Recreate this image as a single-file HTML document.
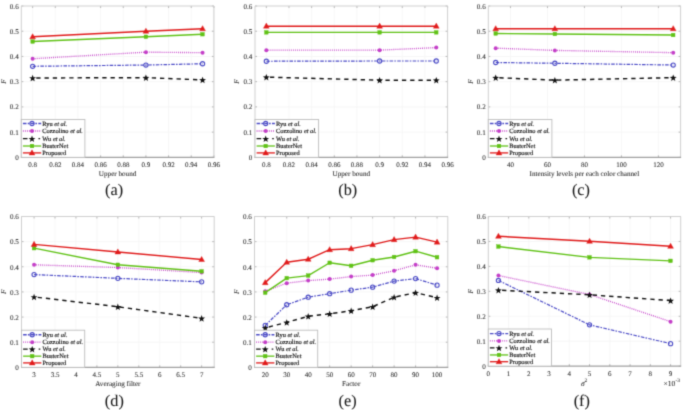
<!DOCTYPE html>
<html><head><meta charset="utf-8"><style>html,body{margin:0;padding:0;background:#fff;width:685px;height:410px;overflow:hidden}</style></head>
<body><svg width="685" height="410" viewBox="0 0 685 410" style="display:block;font-family:'Liberation Serif', serif"><style>text{text-rendering:geometricPrecision;stroke:currentColor;stroke-width:0.06px;}</style><defs><filter id="bl" x="0" y="0" width="685" height="410" filterUnits="userSpaceOnUse" color-interpolation-filters="sRGB"><feConvolveMatrix order="3" kernelMatrix="0.0484 0.22 0.0484 0.22 1 0.22 0.0484 0.22 0.0484" edgeMode="duplicate" preserveAlpha="true"/></filter></defs><g filter="url(#bl)"><rect width="685" height="410" fill="#fff"/><g><line x1="32.63" y1="6.00" x2="32.63" y2="157.35" stroke="#f5f5f5" stroke-width="0.8"/><line x1="55.29" y1="6.00" x2="55.29" y2="157.35" stroke="#f5f5f5" stroke-width="0.8"/><line x1="77.95" y1="6.00" x2="77.95" y2="157.35" stroke="#f5f5f5" stroke-width="0.8"/><line x1="100.61" y1="6.00" x2="100.61" y2="157.35" stroke="#f5f5f5" stroke-width="0.8"/><line x1="123.26" y1="6.00" x2="123.26" y2="157.35" stroke="#f5f5f5" stroke-width="0.8"/><line x1="145.92" y1="6.00" x2="145.92" y2="157.35" stroke="#f5f5f5" stroke-width="0.8"/><line x1="168.58" y1="6.00" x2="168.58" y2="157.35" stroke="#f5f5f5" stroke-width="0.8"/><line x1="191.24" y1="6.00" x2="191.24" y2="157.35" stroke="#f5f5f5" stroke-width="0.8"/><line x1="213.90" y1="6.00" x2="213.90" y2="157.35" stroke="#f5f5f5" stroke-width="0.8"/><line x1="21.30" y1="132.12" x2="213.90" y2="132.12" stroke="#f5f5f5" stroke-width="0.8"/><line x1="21.30" y1="106.90" x2="213.90" y2="106.90" stroke="#f5f5f5" stroke-width="0.8"/><line x1="21.30" y1="81.67" x2="213.90" y2="81.67" stroke="#f5f5f5" stroke-width="0.8"/><line x1="21.30" y1="56.45" x2="213.90" y2="56.45" stroke="#f5f5f5" stroke-width="0.8"/><line x1="21.30" y1="31.22" x2="213.90" y2="31.22" stroke="#f5f5f5" stroke-width="0.8"/><line x1="32.63" y1="157.35" x2="32.63" y2="155.35" stroke="#9a9a9a" stroke-width="0.7"/><line x1="32.63" y1="6.00" x2="32.63" y2="8.00" stroke="#9a9a9a" stroke-width="0.7"/><line x1="55.29" y1="157.35" x2="55.29" y2="155.35" stroke="#9a9a9a" stroke-width="0.7"/><line x1="55.29" y1="6.00" x2="55.29" y2="8.00" stroke="#9a9a9a" stroke-width="0.7"/><line x1="77.95" y1="157.35" x2="77.95" y2="155.35" stroke="#9a9a9a" stroke-width="0.7"/><line x1="77.95" y1="6.00" x2="77.95" y2="8.00" stroke="#9a9a9a" stroke-width="0.7"/><line x1="100.61" y1="157.35" x2="100.61" y2="155.35" stroke="#9a9a9a" stroke-width="0.7"/><line x1="100.61" y1="6.00" x2="100.61" y2="8.00" stroke="#9a9a9a" stroke-width="0.7"/><line x1="123.26" y1="157.35" x2="123.26" y2="155.35" stroke="#9a9a9a" stroke-width="0.7"/><line x1="123.26" y1="6.00" x2="123.26" y2="8.00" stroke="#9a9a9a" stroke-width="0.7"/><line x1="145.92" y1="157.35" x2="145.92" y2="155.35" stroke="#9a9a9a" stroke-width="0.7"/><line x1="145.92" y1="6.00" x2="145.92" y2="8.00" stroke="#9a9a9a" stroke-width="0.7"/><line x1="168.58" y1="157.35" x2="168.58" y2="155.35" stroke="#9a9a9a" stroke-width="0.7"/><line x1="168.58" y1="6.00" x2="168.58" y2="8.00" stroke="#9a9a9a" stroke-width="0.7"/><line x1="191.24" y1="157.35" x2="191.24" y2="155.35" stroke="#9a9a9a" stroke-width="0.7"/><line x1="191.24" y1="6.00" x2="191.24" y2="8.00" stroke="#9a9a9a" stroke-width="0.7"/><line x1="213.90" y1="157.35" x2="213.90" y2="155.35" stroke="#9a9a9a" stroke-width="0.7"/><line x1="213.90" y1="6.00" x2="213.90" y2="8.00" stroke="#9a9a9a" stroke-width="0.7"/><line x1="21.30" y1="157.35" x2="23.30" y2="157.35" stroke="#9a9a9a" stroke-width="0.7"/><line x1="213.90" y1="157.35" x2="211.90" y2="157.35" stroke="#9a9a9a" stroke-width="0.7"/><line x1="21.30" y1="132.12" x2="23.30" y2="132.12" stroke="#9a9a9a" stroke-width="0.7"/><line x1="213.90" y1="132.12" x2="211.90" y2="132.12" stroke="#9a9a9a" stroke-width="0.7"/><line x1="21.30" y1="106.90" x2="23.30" y2="106.90" stroke="#9a9a9a" stroke-width="0.7"/><line x1="213.90" y1="106.90" x2="211.90" y2="106.90" stroke="#9a9a9a" stroke-width="0.7"/><line x1="21.30" y1="81.67" x2="23.30" y2="81.67" stroke="#9a9a9a" stroke-width="0.7"/><line x1="213.90" y1="81.67" x2="211.90" y2="81.67" stroke="#9a9a9a" stroke-width="0.7"/><line x1="21.30" y1="56.45" x2="23.30" y2="56.45" stroke="#9a9a9a" stroke-width="0.7"/><line x1="213.90" y1="56.45" x2="211.90" y2="56.45" stroke="#9a9a9a" stroke-width="0.7"/><line x1="21.30" y1="31.22" x2="23.30" y2="31.22" stroke="#9a9a9a" stroke-width="0.7"/><line x1="213.90" y1="31.22" x2="211.90" y2="31.22" stroke="#9a9a9a" stroke-width="0.7"/><line x1="21.30" y1="6.00" x2="23.30" y2="6.00" stroke="#9a9a9a" stroke-width="0.7"/><line x1="213.90" y1="6.00" x2="211.90" y2="6.00" stroke="#9a9a9a" stroke-width="0.7"/><line x1="21.30" y1="6.00" x2="213.90" y2="6.00" stroke="#cfcfcf" stroke-width="1"/><line x1="213.90" y1="6.00" x2="213.90" y2="157.35" stroke="#cfcfcf" stroke-width="1"/><line x1="21.30" y1="6.00" x2="21.30" y2="157.35" stroke="#cfcfcf" stroke-width="1"/><line x1="20.80" y1="157.35" x2="214.40" y2="157.35" stroke="#a0a0a0" stroke-width="1.1"/><polyline points="32.63,66.29 145.92,65.03 202.57,63.77" fill="none" stroke="#4b4bc6" stroke-width="1.2" stroke-dasharray="3.6 1.2 1.6 1.3" stroke-linejoin="round"/><polyline points="32.63,58.72 145.92,52.16 202.57,52.67" fill="none" stroke="#c43fc8" stroke-width="1.35" stroke-dasharray="0.9 1.15" stroke-linejoin="round"/><polyline points="32.63,77.99 145.92,77.64 202.57,79.91" fill="none" stroke="#111111" stroke-width="1.45" stroke-dasharray="4.3 3.95" stroke-dashoffset="4.6" stroke-linejoin="round"/><polyline points="32.63,41.57 145.92,36.77 202.57,34.25" fill="none" stroke="#60c216" stroke-width="1.4" stroke-linejoin="round"/><polyline points="32.63,36.77 145.92,31.22 202.57,28.70" fill="none" stroke="#e01b1b" stroke-width="1.4" stroke-linejoin="round"/><circle cx="32.63" cy="66.29" r="2.1" fill="none" stroke="#4b4bc6" stroke-width="1.1"/><circle cx="145.92" cy="65.03" r="2.1" fill="none" stroke="#4b4bc6" stroke-width="1.1"/><circle cx="202.57" cy="63.77" r="2.1" fill="none" stroke="#4b4bc6" stroke-width="1.1"/><circle cx="32.63" cy="58.72" r="2.0" fill="#c43fc8"/><circle cx="145.92" cy="52.16" r="2.0" fill="#c43fc8"/><circle cx="202.57" cy="52.67" r="2.0" fill="#c43fc8"/><polygon points="32.63,74.79 33.52,77.17 36.05,77.28 34.07,78.86 34.75,81.30 32.63,79.90 30.51,81.30 31.19,78.86 29.21,77.28 31.74,77.17" fill="#111111"/><polygon points="145.92,74.44 146.81,76.82 149.35,76.93 147.36,78.51 148.04,80.95 145.92,79.55 143.81,80.95 144.49,78.51 142.50,76.93 145.03,76.82" fill="#111111"/><polygon points="202.57,76.71 203.46,79.09 205.99,79.20 204.01,80.78 204.69,83.22 202.57,81.82 200.45,83.22 201.13,80.78 199.15,79.20 201.68,79.09" fill="#111111"/><rect x="30.83" y="39.77" width="3.6" height="3.6" fill="#60c216" stroke="#60c216" stroke-width="0.4"/><rect x="144.12" y="34.97" width="3.6" height="3.6" fill="#60c216" stroke="#60c216" stroke-width="0.4"/><rect x="200.77" y="32.45" width="3.6" height="3.6" fill="#60c216" stroke="#60c216" stroke-width="0.4"/><polygon points="32.63,33.71 35.53,38.81 29.73,38.81" fill="#e01b1b" stroke="#e01b1b" stroke-width="0.4" stroke-linejoin="miter"/><polygon points="145.92,28.16 148.82,33.26 143.02,33.26" fill="#e01b1b" stroke="#e01b1b" stroke-width="0.4" stroke-linejoin="miter"/><polygon points="202.57,25.64 205.47,30.74 199.67,30.74" fill="#e01b1b" stroke="#e01b1b" stroke-width="0.4" stroke-linejoin="miter"/><text x="32.63" y="167.15" font-size="7.0" fill="#262626" color="#262626" text-anchor="middle">0.8</text><text x="55.29" y="167.15" font-size="7.0" fill="#262626" color="#262626" text-anchor="middle">0.82</text><text x="77.95" y="167.15" font-size="7.0" fill="#262626" color="#262626" text-anchor="middle">0.84</text><text x="100.61" y="167.15" font-size="7.0" fill="#262626" color="#262626" text-anchor="middle">0.86</text><text x="123.26" y="167.15" font-size="7.0" fill="#262626" color="#262626" text-anchor="middle">0.88</text><text x="145.92" y="167.15" font-size="7.0" fill="#262626" color="#262626" text-anchor="middle">0.9</text><text x="168.58" y="167.15" font-size="7.0" fill="#262626" color="#262626" text-anchor="middle">0.92</text><text x="191.24" y="167.15" font-size="7.0" fill="#262626" color="#262626" text-anchor="middle">0.94</text><text x="213.90" y="167.15" font-size="7.0" fill="#262626" color="#262626" text-anchor="middle">0.96</text><text x="18.70" y="159.70" font-size="7.1" fill="#262626" color="#262626" text-anchor="end">0</text><text x="18.70" y="134.57" font-size="7.1" fill="#262626" color="#262626" text-anchor="end">0.1</text><text x="18.70" y="109.43" font-size="7.1" fill="#262626" color="#262626" text-anchor="end">0.2</text><text x="18.70" y="84.30" font-size="7.1" fill="#262626" color="#262626" text-anchor="end">0.3</text><text x="18.70" y="59.17" font-size="7.1" fill="#262626" color="#262626" text-anchor="end">0.4</text><text x="18.70" y="34.03" font-size="7.1" fill="#262626" color="#262626" text-anchor="end">0.5</text><text x="18.70" y="8.90" font-size="7.1" fill="#262626" color="#262626" text-anchor="end">0.6</text><text x="0" y="0" transform="translate(5.50,81.67) rotate(-90)" font-size="7.2" font-style="italic" fill="#262626" color="#262626" text-anchor="middle">F</text><text x="117.60" y="175.75" font-size="7.15" fill="#262626" color="#262626" text-anchor="middle">Upper bound</text><text x="114.10" y="194.75" font-size="16.3" fill="#1a1a1a" color="#1a1a1a" text-anchor="middle">(a)</text><rect x="21.30" y="119.45" width="63.6" height="37.9" fill="#fff" stroke="#bdbdbd" stroke-width="0.9"/><line x1="22.90" y1="123.50" x2="41.20" y2="123.50" stroke="#4b4bc6" stroke-width="1.3" stroke-dasharray="3.6 1.2 1.6 1.3"/><circle cx="32.00" cy="123.50" r="2.1" fill="none" stroke="#4b4bc6" stroke-width="1.1"/><text x="42.30" y="125.60" font-size="6.4" fill="#151515" color="#151515" style="stroke-width:0.16px">Ryu <tspan font-style="italic">et al.</tspan></text><line x1="22.90" y1="131.00" x2="41.20" y2="131.00" stroke="#c43fc8" stroke-width="1.3" stroke-dasharray="0.9 1.15"/><circle cx="32.00" cy="131.00" r="2.0" fill="#c43fc8"/><text x="42.30" y="133.10" font-size="6.4" fill="#151515" color="#151515" style="stroke-width:0.16px">Cozzolino <tspan font-style="italic">et al.</tspan></text><line x1="22.90" y1="138.70" x2="41.20" y2="138.70" stroke="#111111" stroke-width="1.3" stroke-dasharray="4.6 11 1.6"/><polygon points="32.00,135.50 32.89,137.88 35.42,137.99 33.44,139.57 34.12,142.01 32.00,140.61 29.88,142.01 30.56,139.57 28.58,137.99 31.11,137.88" fill="#111111"/><text x="42.30" y="140.80" font-size="6.4" fill="#151515" color="#151515" style="stroke-width:0.16px">Wu <tspan font-style="italic">et al.</tspan></text><line x1="22.90" y1="146.00" x2="41.20" y2="146.00" stroke="#60c216" stroke-width="1.3"/><rect x="30.20" y="144.20" width="3.6" height="3.6" fill="#60c216" stroke="#60c216" stroke-width="0.4"/><text x="42.30" y="148.10" font-size="6.4" fill="#151515" color="#151515" style="stroke-width:0.16px">BusterNet</text><line x1="22.90" y1="152.90" x2="41.20" y2="152.90" stroke="#e01b1b" stroke-width="1.3"/><polygon points="32.00,149.84 34.90,154.94 29.10,154.94" fill="#e01b1b" stroke="#e01b1b" stroke-width="0.4" stroke-linejoin="miter"/><text x="42.30" y="155.00" font-size="6.4" fill="#151515" color="#151515" style="stroke-width:0.16px">Proposed</text></g><g><line x1="266.33" y1="6.00" x2="266.33" y2="157.35" stroke="#f5f5f5" stroke-width="0.8"/><line x1="288.99" y1="6.00" x2="288.99" y2="157.35" stroke="#f5f5f5" stroke-width="0.8"/><line x1="311.65" y1="6.00" x2="311.65" y2="157.35" stroke="#f5f5f5" stroke-width="0.8"/><line x1="334.31" y1="6.00" x2="334.31" y2="157.35" stroke="#f5f5f5" stroke-width="0.8"/><line x1="356.96" y1="6.00" x2="356.96" y2="157.35" stroke="#f5f5f5" stroke-width="0.8"/><line x1="379.62" y1="6.00" x2="379.62" y2="157.35" stroke="#f5f5f5" stroke-width="0.8"/><line x1="402.28" y1="6.00" x2="402.28" y2="157.35" stroke="#f5f5f5" stroke-width="0.8"/><line x1="424.94" y1="6.00" x2="424.94" y2="157.35" stroke="#f5f5f5" stroke-width="0.8"/><line x1="447.60" y1="6.00" x2="447.60" y2="157.35" stroke="#f5f5f5" stroke-width="0.8"/><line x1="255.00" y1="132.12" x2="447.60" y2="132.12" stroke="#f5f5f5" stroke-width="0.8"/><line x1="255.00" y1="106.90" x2="447.60" y2="106.90" stroke="#f5f5f5" stroke-width="0.8"/><line x1="255.00" y1="81.67" x2="447.60" y2="81.67" stroke="#f5f5f5" stroke-width="0.8"/><line x1="255.00" y1="56.45" x2="447.60" y2="56.45" stroke="#f5f5f5" stroke-width="0.8"/><line x1="255.00" y1="31.22" x2="447.60" y2="31.22" stroke="#f5f5f5" stroke-width="0.8"/><line x1="266.33" y1="157.35" x2="266.33" y2="155.35" stroke="#9a9a9a" stroke-width="0.7"/><line x1="266.33" y1="6.00" x2="266.33" y2="8.00" stroke="#9a9a9a" stroke-width="0.7"/><line x1="288.99" y1="157.35" x2="288.99" y2="155.35" stroke="#9a9a9a" stroke-width="0.7"/><line x1="288.99" y1="6.00" x2="288.99" y2="8.00" stroke="#9a9a9a" stroke-width="0.7"/><line x1="311.65" y1="157.35" x2="311.65" y2="155.35" stroke="#9a9a9a" stroke-width="0.7"/><line x1="311.65" y1="6.00" x2="311.65" y2="8.00" stroke="#9a9a9a" stroke-width="0.7"/><line x1="334.31" y1="157.35" x2="334.31" y2="155.35" stroke="#9a9a9a" stroke-width="0.7"/><line x1="334.31" y1="6.00" x2="334.31" y2="8.00" stroke="#9a9a9a" stroke-width="0.7"/><line x1="356.96" y1="157.35" x2="356.96" y2="155.35" stroke="#9a9a9a" stroke-width="0.7"/><line x1="356.96" y1="6.00" x2="356.96" y2="8.00" stroke="#9a9a9a" stroke-width="0.7"/><line x1="379.62" y1="157.35" x2="379.62" y2="155.35" stroke="#9a9a9a" stroke-width="0.7"/><line x1="379.62" y1="6.00" x2="379.62" y2="8.00" stroke="#9a9a9a" stroke-width="0.7"/><line x1="402.28" y1="157.35" x2="402.28" y2="155.35" stroke="#9a9a9a" stroke-width="0.7"/><line x1="402.28" y1="6.00" x2="402.28" y2="8.00" stroke="#9a9a9a" stroke-width="0.7"/><line x1="424.94" y1="157.35" x2="424.94" y2="155.35" stroke="#9a9a9a" stroke-width="0.7"/><line x1="424.94" y1="6.00" x2="424.94" y2="8.00" stroke="#9a9a9a" stroke-width="0.7"/><line x1="447.60" y1="157.35" x2="447.60" y2="155.35" stroke="#9a9a9a" stroke-width="0.7"/><line x1="447.60" y1="6.00" x2="447.60" y2="8.00" stroke="#9a9a9a" stroke-width="0.7"/><line x1="255.00" y1="157.35" x2="257.00" y2="157.35" stroke="#9a9a9a" stroke-width="0.7"/><line x1="447.60" y1="157.35" x2="445.60" y2="157.35" stroke="#9a9a9a" stroke-width="0.7"/><line x1="255.00" y1="132.12" x2="257.00" y2="132.12" stroke="#9a9a9a" stroke-width="0.7"/><line x1="447.60" y1="132.12" x2="445.60" y2="132.12" stroke="#9a9a9a" stroke-width="0.7"/><line x1="255.00" y1="106.90" x2="257.00" y2="106.90" stroke="#9a9a9a" stroke-width="0.7"/><line x1="447.60" y1="106.90" x2="445.60" y2="106.90" stroke="#9a9a9a" stroke-width="0.7"/><line x1="255.00" y1="81.67" x2="257.00" y2="81.67" stroke="#9a9a9a" stroke-width="0.7"/><line x1="447.60" y1="81.67" x2="445.60" y2="81.67" stroke="#9a9a9a" stroke-width="0.7"/><line x1="255.00" y1="56.45" x2="257.00" y2="56.45" stroke="#9a9a9a" stroke-width="0.7"/><line x1="447.60" y1="56.45" x2="445.60" y2="56.45" stroke="#9a9a9a" stroke-width="0.7"/><line x1="255.00" y1="31.22" x2="257.00" y2="31.22" stroke="#9a9a9a" stroke-width="0.7"/><line x1="447.60" y1="31.22" x2="445.60" y2="31.22" stroke="#9a9a9a" stroke-width="0.7"/><line x1="255.00" y1="6.00" x2="257.00" y2="6.00" stroke="#9a9a9a" stroke-width="0.7"/><line x1="447.60" y1="6.00" x2="445.60" y2="6.00" stroke="#9a9a9a" stroke-width="0.7"/><line x1="255.00" y1="6.00" x2="447.60" y2="6.00" stroke="#cfcfcf" stroke-width="1"/><line x1="447.60" y1="6.00" x2="447.60" y2="157.35" stroke="#cfcfcf" stroke-width="1"/><line x1="255.00" y1="6.00" x2="255.00" y2="157.35" stroke="#cfcfcf" stroke-width="1"/><line x1="254.50" y1="157.35" x2="448.10" y2="157.35" stroke="#a0a0a0" stroke-width="1.1"/><polyline points="266.33,61.24 379.62,60.99 436.27,60.99" fill="none" stroke="#4b4bc6" stroke-width="1.2" stroke-dasharray="3.6 1.2 1.6 1.3" stroke-linejoin="round"/><polyline points="266.33,50.14 379.62,50.14 436.27,47.62" fill="none" stroke="#c43fc8" stroke-width="1.35" stroke-dasharray="0.9 1.15" stroke-linejoin="round"/><polyline points="266.33,77.13 379.62,80.16 436.27,80.16" fill="none" stroke="#111111" stroke-width="1.45" stroke-dasharray="4.3 3.95" stroke-dashoffset="4.6" stroke-linejoin="round"/><polyline points="266.33,32.36 379.62,32.36 436.27,32.36" fill="none" stroke="#60c216" stroke-width="1.4" stroke-linejoin="round"/><polyline points="266.33,26.18 379.62,26.18 436.27,26.18" fill="none" stroke="#e01b1b" stroke-width="1.4" stroke-linejoin="round"/><circle cx="266.33" cy="61.24" r="2.1" fill="none" stroke="#4b4bc6" stroke-width="1.1"/><circle cx="379.62" cy="60.99" r="2.1" fill="none" stroke="#4b4bc6" stroke-width="1.1"/><circle cx="436.27" cy="60.99" r="2.1" fill="none" stroke="#4b4bc6" stroke-width="1.1"/><circle cx="266.33" cy="50.14" r="2.0" fill="#c43fc8"/><circle cx="379.62" cy="50.14" r="2.0" fill="#c43fc8"/><circle cx="436.27" cy="47.62" r="2.0" fill="#c43fc8"/><polygon points="266.33,73.93 267.22,76.31 269.75,76.42 267.77,78.00 268.45,80.45 266.33,79.05 264.21,80.45 264.89,78.00 262.91,76.42 265.44,76.31" fill="#111111"/><polygon points="379.62,76.96 380.51,79.34 383.05,79.45 381.06,81.03 381.74,83.47 379.62,82.07 377.51,83.47 378.19,81.03 376.20,79.45 378.73,79.34" fill="#111111"/><polygon points="436.27,76.96 437.16,79.34 439.69,79.45 437.71,81.03 438.39,83.47 436.27,82.07 434.15,83.47 434.83,81.03 432.85,79.45 435.38,79.34" fill="#111111"/><rect x="264.53" y="30.56" width="3.6" height="3.6" fill="#60c216" stroke="#60c216" stroke-width="0.4"/><rect x="377.82" y="30.56" width="3.6" height="3.6" fill="#60c216" stroke="#60c216" stroke-width="0.4"/><rect x="434.47" y="30.56" width="3.6" height="3.6" fill="#60c216" stroke="#60c216" stroke-width="0.4"/><polygon points="266.33,23.12 269.23,28.22 263.43,28.22" fill="#e01b1b" stroke="#e01b1b" stroke-width="0.4" stroke-linejoin="miter"/><polygon points="379.62,23.12 382.52,28.22 376.72,28.22" fill="#e01b1b" stroke="#e01b1b" stroke-width="0.4" stroke-linejoin="miter"/><polygon points="436.27,23.12 439.17,28.22 433.37,28.22" fill="#e01b1b" stroke="#e01b1b" stroke-width="0.4" stroke-linejoin="miter"/><text x="266.33" y="167.15" font-size="7.0" fill="#262626" color="#262626" text-anchor="middle">0.8</text><text x="288.99" y="167.15" font-size="7.0" fill="#262626" color="#262626" text-anchor="middle">0.82</text><text x="311.65" y="167.15" font-size="7.0" fill="#262626" color="#262626" text-anchor="middle">0.84</text><text x="334.31" y="167.15" font-size="7.0" fill="#262626" color="#262626" text-anchor="middle">0.86</text><text x="356.96" y="167.15" font-size="7.0" fill="#262626" color="#262626" text-anchor="middle">0.88</text><text x="379.62" y="167.15" font-size="7.0" fill="#262626" color="#262626" text-anchor="middle">0.9</text><text x="402.28" y="167.15" font-size="7.0" fill="#262626" color="#262626" text-anchor="middle">0.92</text><text x="424.94" y="167.15" font-size="7.0" fill="#262626" color="#262626" text-anchor="middle">0.94</text><text x="447.60" y="167.15" font-size="7.0" fill="#262626" color="#262626" text-anchor="middle">0.96</text><text x="252.40" y="159.70" font-size="7.1" fill="#262626" color="#262626" text-anchor="end">0</text><text x="252.40" y="134.57" font-size="7.1" fill="#262626" color="#262626" text-anchor="end">0.1</text><text x="252.40" y="109.43" font-size="7.1" fill="#262626" color="#262626" text-anchor="end">0.2</text><text x="252.40" y="84.30" font-size="7.1" fill="#262626" color="#262626" text-anchor="end">0.3</text><text x="252.40" y="59.17" font-size="7.1" fill="#262626" color="#262626" text-anchor="end">0.4</text><text x="252.40" y="34.03" font-size="7.1" fill="#262626" color="#262626" text-anchor="end">0.5</text><text x="252.40" y="8.90" font-size="7.1" fill="#262626" color="#262626" text-anchor="end">0.6</text><text x="0" y="0" transform="translate(239.20,81.67) rotate(-90)" font-size="7.2" font-style="italic" fill="#262626" color="#262626" text-anchor="middle">F</text><text x="351.30" y="175.75" font-size="7.15" fill="#262626" color="#262626" text-anchor="middle">Upper bound</text><text x="347.80" y="194.75" font-size="16.3" fill="#1a1a1a" color="#1a1a1a" text-anchor="middle">(b)</text><rect x="255.00" y="119.45" width="63.6" height="37.9" fill="#fff" stroke="#bdbdbd" stroke-width="0.9"/><line x1="256.60" y1="123.50" x2="274.90" y2="123.50" stroke="#4b4bc6" stroke-width="1.3" stroke-dasharray="3.6 1.2 1.6 1.3"/><circle cx="265.70" cy="123.50" r="2.1" fill="none" stroke="#4b4bc6" stroke-width="1.1"/><text x="276.00" y="125.60" font-size="6.4" fill="#151515" color="#151515" style="stroke-width:0.16px">Ryu <tspan font-style="italic">et al.</tspan></text><line x1="256.60" y1="131.00" x2="274.90" y2="131.00" stroke="#c43fc8" stroke-width="1.3" stroke-dasharray="0.9 1.15"/><circle cx="265.70" cy="131.00" r="2.0" fill="#c43fc8"/><text x="276.00" y="133.10" font-size="6.4" fill="#151515" color="#151515" style="stroke-width:0.16px">Cozzolino <tspan font-style="italic">et al.</tspan></text><line x1="256.60" y1="138.70" x2="274.90" y2="138.70" stroke="#111111" stroke-width="1.3" stroke-dasharray="4.6 11 1.6"/><polygon points="265.70,135.50 266.59,137.88 269.12,137.99 267.14,139.57 267.82,142.01 265.70,140.61 263.58,142.01 264.26,139.57 262.28,137.99 264.81,137.88" fill="#111111"/><text x="276.00" y="140.80" font-size="6.4" fill="#151515" color="#151515" style="stroke-width:0.16px">Wu <tspan font-style="italic">et al.</tspan></text><line x1="256.60" y1="146.00" x2="274.90" y2="146.00" stroke="#60c216" stroke-width="1.3"/><rect x="263.90" y="144.20" width="3.6" height="3.6" fill="#60c216" stroke="#60c216" stroke-width="0.4"/><text x="276.00" y="148.10" font-size="6.4" fill="#151515" color="#151515" style="stroke-width:0.16px">BusterNet</text><line x1="256.60" y1="152.90" x2="274.90" y2="152.90" stroke="#e01b1b" stroke-width="1.3"/><polygon points="265.70,149.84 268.60,154.94 262.80,154.94" fill="#e01b1b" stroke="#e01b1b" stroke-width="0.4" stroke-linejoin="miter"/><text x="276.00" y="155.00" font-size="6.4" fill="#151515" color="#151515" style="stroke-width:0.16px">Proposed</text></g><g><line x1="510.49" y1="6.00" x2="510.49" y2="157.35" stroke="#f5f5f5" stroke-width="0.8"/><line x1="547.47" y1="6.00" x2="547.47" y2="157.35" stroke="#f5f5f5" stroke-width="0.8"/><line x1="584.45" y1="6.00" x2="584.45" y2="157.35" stroke="#f5f5f5" stroke-width="0.8"/><line x1="621.43" y1="6.00" x2="621.43" y2="157.35" stroke="#f5f5f5" stroke-width="0.8"/><line x1="658.41" y1="6.00" x2="658.41" y2="157.35" stroke="#f5f5f5" stroke-width="0.8"/><line x1="488.30" y1="132.12" x2="680.60" y2="132.12" stroke="#f5f5f5" stroke-width="0.8"/><line x1="488.30" y1="106.90" x2="680.60" y2="106.90" stroke="#f5f5f5" stroke-width="0.8"/><line x1="488.30" y1="81.67" x2="680.60" y2="81.67" stroke="#f5f5f5" stroke-width="0.8"/><line x1="488.30" y1="56.45" x2="680.60" y2="56.45" stroke="#f5f5f5" stroke-width="0.8"/><line x1="488.30" y1="31.22" x2="680.60" y2="31.22" stroke="#f5f5f5" stroke-width="0.8"/><line x1="510.49" y1="157.35" x2="510.49" y2="155.35" stroke="#9a9a9a" stroke-width="0.7"/><line x1="510.49" y1="6.00" x2="510.49" y2="8.00" stroke="#9a9a9a" stroke-width="0.7"/><line x1="547.47" y1="157.35" x2="547.47" y2="155.35" stroke="#9a9a9a" stroke-width="0.7"/><line x1="547.47" y1="6.00" x2="547.47" y2="8.00" stroke="#9a9a9a" stroke-width="0.7"/><line x1="584.45" y1="157.35" x2="584.45" y2="155.35" stroke="#9a9a9a" stroke-width="0.7"/><line x1="584.45" y1="6.00" x2="584.45" y2="8.00" stroke="#9a9a9a" stroke-width="0.7"/><line x1="621.43" y1="157.35" x2="621.43" y2="155.35" stroke="#9a9a9a" stroke-width="0.7"/><line x1="621.43" y1="6.00" x2="621.43" y2="8.00" stroke="#9a9a9a" stroke-width="0.7"/><line x1="658.41" y1="157.35" x2="658.41" y2="155.35" stroke="#9a9a9a" stroke-width="0.7"/><line x1="658.41" y1="6.00" x2="658.41" y2="8.00" stroke="#9a9a9a" stroke-width="0.7"/><line x1="488.30" y1="157.35" x2="490.30" y2="157.35" stroke="#9a9a9a" stroke-width="0.7"/><line x1="680.60" y1="157.35" x2="678.60" y2="157.35" stroke="#9a9a9a" stroke-width="0.7"/><line x1="488.30" y1="132.12" x2="490.30" y2="132.12" stroke="#9a9a9a" stroke-width="0.7"/><line x1="680.60" y1="132.12" x2="678.60" y2="132.12" stroke="#9a9a9a" stroke-width="0.7"/><line x1="488.30" y1="106.90" x2="490.30" y2="106.90" stroke="#9a9a9a" stroke-width="0.7"/><line x1="680.60" y1="106.90" x2="678.60" y2="106.90" stroke="#9a9a9a" stroke-width="0.7"/><line x1="488.30" y1="81.67" x2="490.30" y2="81.67" stroke="#9a9a9a" stroke-width="0.7"/><line x1="680.60" y1="81.67" x2="678.60" y2="81.67" stroke="#9a9a9a" stroke-width="0.7"/><line x1="488.30" y1="56.45" x2="490.30" y2="56.45" stroke="#9a9a9a" stroke-width="0.7"/><line x1="680.60" y1="56.45" x2="678.60" y2="56.45" stroke="#9a9a9a" stroke-width="0.7"/><line x1="488.30" y1="31.22" x2="490.30" y2="31.22" stroke="#9a9a9a" stroke-width="0.7"/><line x1="680.60" y1="31.22" x2="678.60" y2="31.22" stroke="#9a9a9a" stroke-width="0.7"/><line x1="488.30" y1="6.00" x2="490.30" y2="6.00" stroke="#9a9a9a" stroke-width="0.7"/><line x1="680.60" y1="6.00" x2="678.60" y2="6.00" stroke="#9a9a9a" stroke-width="0.7"/><line x1="488.30" y1="6.00" x2="680.60" y2="6.00" stroke="#cfcfcf" stroke-width="1"/><line x1="680.60" y1="6.00" x2="680.60" y2="157.35" stroke="#cfcfcf" stroke-width="1"/><line x1="488.30" y1="6.00" x2="488.30" y2="157.35" stroke="#cfcfcf" stroke-width="1"/><line x1="487.80" y1="157.35" x2="681.10" y2="157.35" stroke="#a0a0a0" stroke-width="1.1"/><polyline points="495.70,62.50 554.87,63.26 673.20,65.03" fill="none" stroke="#4b4bc6" stroke-width="1.2" stroke-dasharray="3.6 1.2 1.6 1.3" stroke-linejoin="round"/><polyline points="495.70,48.13 554.87,50.40 673.20,52.67" fill="none" stroke="#c43fc8" stroke-width="1.35" stroke-dasharray="0.9 1.15" stroke-linejoin="round"/><polyline points="495.70,77.64 554.87,80.16 673.20,77.64" fill="none" stroke="#111111" stroke-width="1.45" stroke-dasharray="4.3 3.95" stroke-dashoffset="4.6" stroke-linejoin="round"/><polyline points="495.70,33.50 554.87,34.00 673.20,35.01" fill="none" stroke="#60c216" stroke-width="1.4" stroke-linejoin="round"/><polyline points="495.70,28.70 554.87,28.70 673.20,28.70" fill="none" stroke="#e01b1b" stroke-width="1.4" stroke-linejoin="round"/><circle cx="495.70" cy="62.50" r="2.1" fill="none" stroke="#4b4bc6" stroke-width="1.1"/><circle cx="554.87" cy="63.26" r="2.1" fill="none" stroke="#4b4bc6" stroke-width="1.1"/><circle cx="673.20" cy="65.03" r="2.1" fill="none" stroke="#4b4bc6" stroke-width="1.1"/><circle cx="495.70" cy="48.13" r="2.0" fill="#c43fc8"/><circle cx="554.87" cy="50.40" r="2.0" fill="#c43fc8"/><circle cx="673.20" cy="52.67" r="2.0" fill="#c43fc8"/><polygon points="495.70,74.44 496.58,76.82 499.12,76.93 497.13,78.51 497.81,80.95 495.70,79.55 493.58,80.95 494.26,78.51 492.27,76.93 494.81,76.82" fill="#111111"/><polygon points="554.87,76.96 555.75,79.34 558.29,79.45 556.30,81.03 556.98,83.47 554.87,82.07 552.75,83.47 553.43,81.03 551.44,79.45 553.98,79.34" fill="#111111"/><polygon points="673.20,74.44 674.09,76.82 676.63,76.93 674.64,78.51 675.32,80.95 673.20,79.55 671.09,80.95 671.77,78.51 669.78,76.93 672.32,76.82" fill="#111111"/><rect x="493.90" y="31.70" width="3.6" height="3.6" fill="#60c216" stroke="#60c216" stroke-width="0.4"/><rect x="553.07" y="32.20" width="3.6" height="3.6" fill="#60c216" stroke="#60c216" stroke-width="0.4"/><rect x="671.40" y="33.21" width="3.6" height="3.6" fill="#60c216" stroke="#60c216" stroke-width="0.4"/><polygon points="495.70,25.64 498.60,30.74 492.80,30.74" fill="#e01b1b" stroke="#e01b1b" stroke-width="0.4" stroke-linejoin="miter"/><polygon points="554.87,25.64 557.77,30.74 551.97,30.74" fill="#e01b1b" stroke="#e01b1b" stroke-width="0.4" stroke-linejoin="miter"/><polygon points="673.20,25.64 676.10,30.74 670.30,30.74" fill="#e01b1b" stroke="#e01b1b" stroke-width="0.4" stroke-linejoin="miter"/><text x="510.49" y="167.15" font-size="7.0" fill="#262626" color="#262626" text-anchor="middle">40</text><text x="547.47" y="167.15" font-size="7.0" fill="#262626" color="#262626" text-anchor="middle">60</text><text x="584.45" y="167.15" font-size="7.0" fill="#262626" color="#262626" text-anchor="middle">80</text><text x="621.43" y="167.15" font-size="7.0" fill="#262626" color="#262626" text-anchor="middle">100</text><text x="658.41" y="167.15" font-size="7.0" fill="#262626" color="#262626" text-anchor="middle">120</text><text x="485.70" y="159.70" font-size="7.1" fill="#262626" color="#262626" text-anchor="end">0</text><text x="485.70" y="134.57" font-size="7.1" fill="#262626" color="#262626" text-anchor="end">0.1</text><text x="485.70" y="109.43" font-size="7.1" fill="#262626" color="#262626" text-anchor="end">0.2</text><text x="485.70" y="84.30" font-size="7.1" fill="#262626" color="#262626" text-anchor="end">0.3</text><text x="485.70" y="59.17" font-size="7.1" fill="#262626" color="#262626" text-anchor="end">0.4</text><text x="485.70" y="34.03" font-size="7.1" fill="#262626" color="#262626" text-anchor="end">0.5</text><text x="485.70" y="8.90" font-size="7.1" fill="#262626" color="#262626" text-anchor="end">0.6</text><text x="0" y="0" transform="translate(472.50,81.67) rotate(-90)" font-size="7.2" font-style="italic" fill="#262626" color="#262626" text-anchor="middle">F</text><text x="584.45" y="175.75" font-size="7.15" fill="#262626" color="#262626" text-anchor="middle">Intensity levels per each color channel</text><text x="580.95" y="194.75" font-size="16.3" fill="#1a1a1a" color="#1a1a1a" text-anchor="middle">(c)</text><rect x="488.30" y="119.45" width="63.6" height="37.9" fill="#fff" stroke="#bdbdbd" stroke-width="0.9"/><line x1="489.90" y1="123.50" x2="508.20" y2="123.50" stroke="#4b4bc6" stroke-width="1.3" stroke-dasharray="3.6 1.2 1.6 1.3"/><circle cx="499.00" cy="123.50" r="2.1" fill="none" stroke="#4b4bc6" stroke-width="1.1"/><text x="509.30" y="125.60" font-size="6.4" fill="#151515" color="#151515" style="stroke-width:0.16px">Ryu <tspan font-style="italic">et al.</tspan></text><line x1="489.90" y1="131.00" x2="508.20" y2="131.00" stroke="#c43fc8" stroke-width="1.3" stroke-dasharray="0.9 1.15"/><circle cx="499.00" cy="131.00" r="2.0" fill="#c43fc8"/><text x="509.30" y="133.10" font-size="6.4" fill="#151515" color="#151515" style="stroke-width:0.16px">Cozzolino <tspan font-style="italic">et al.</tspan></text><line x1="489.90" y1="138.70" x2="508.20" y2="138.70" stroke="#111111" stroke-width="1.3" stroke-dasharray="4.6 11 1.6"/><polygon points="499.00,135.50 499.89,137.88 502.42,137.99 500.44,139.57 501.12,142.01 499.00,140.61 496.88,142.01 497.56,139.57 495.58,137.99 498.11,137.88" fill="#111111"/><text x="509.30" y="140.80" font-size="6.4" fill="#151515" color="#151515" style="stroke-width:0.16px">Wu <tspan font-style="italic">et al.</tspan></text><line x1="489.90" y1="146.00" x2="508.20" y2="146.00" stroke="#60c216" stroke-width="1.3"/><rect x="497.20" y="144.20" width="3.6" height="3.6" fill="#60c216" stroke="#60c216" stroke-width="0.4"/><text x="509.30" y="148.10" font-size="6.4" fill="#151515" color="#151515" style="stroke-width:0.16px">BusterNet</text><line x1="489.90" y1="152.90" x2="508.20" y2="152.90" stroke="#e01b1b" stroke-width="1.3"/><polygon points="499.00,149.84 501.90,154.94 496.10,154.94" fill="#e01b1b" stroke="#e01b1b" stroke-width="0.4" stroke-linejoin="miter"/><text x="509.30" y="155.00" font-size="6.4" fill="#151515" color="#151515" style="stroke-width:0.16px">Proposed</text></g><g><line x1="34.07" y1="216.50" x2="34.07" y2="367.35" stroke="#f5f5f5" stroke-width="0.8"/><line x1="55.01" y1="216.50" x2="55.01" y2="367.35" stroke="#f5f5f5" stroke-width="0.8"/><line x1="75.96" y1="216.50" x2="75.96" y2="367.35" stroke="#f5f5f5" stroke-width="0.8"/><line x1="96.90" y1="216.50" x2="96.90" y2="367.35" stroke="#f5f5f5" stroke-width="0.8"/><line x1="117.85" y1="216.50" x2="117.85" y2="367.35" stroke="#f5f5f5" stroke-width="0.8"/><line x1="138.80" y1="216.50" x2="138.80" y2="367.35" stroke="#f5f5f5" stroke-width="0.8"/><line x1="159.74" y1="216.50" x2="159.74" y2="367.35" stroke="#f5f5f5" stroke-width="0.8"/><line x1="180.69" y1="216.50" x2="180.69" y2="367.35" stroke="#f5f5f5" stroke-width="0.8"/><line x1="201.63" y1="216.50" x2="201.63" y2="367.35" stroke="#f5f5f5" stroke-width="0.8"/><line x1="21.50" y1="342.21" x2="214.20" y2="342.21" stroke="#f5f5f5" stroke-width="0.8"/><line x1="21.50" y1="317.07" x2="214.20" y2="317.07" stroke="#f5f5f5" stroke-width="0.8"/><line x1="21.50" y1="291.93" x2="214.20" y2="291.93" stroke="#f5f5f5" stroke-width="0.8"/><line x1="21.50" y1="266.78" x2="214.20" y2="266.78" stroke="#f5f5f5" stroke-width="0.8"/><line x1="21.50" y1="241.64" x2="214.20" y2="241.64" stroke="#f5f5f5" stroke-width="0.8"/><line x1="34.07" y1="367.35" x2="34.07" y2="365.35" stroke="#9a9a9a" stroke-width="0.7"/><line x1="34.07" y1="216.50" x2="34.07" y2="218.50" stroke="#9a9a9a" stroke-width="0.7"/><line x1="55.01" y1="367.35" x2="55.01" y2="365.35" stroke="#9a9a9a" stroke-width="0.7"/><line x1="55.01" y1="216.50" x2="55.01" y2="218.50" stroke="#9a9a9a" stroke-width="0.7"/><line x1="75.96" y1="367.35" x2="75.96" y2="365.35" stroke="#9a9a9a" stroke-width="0.7"/><line x1="75.96" y1="216.50" x2="75.96" y2="218.50" stroke="#9a9a9a" stroke-width="0.7"/><line x1="96.90" y1="367.35" x2="96.90" y2="365.35" stroke="#9a9a9a" stroke-width="0.7"/><line x1="96.90" y1="216.50" x2="96.90" y2="218.50" stroke="#9a9a9a" stroke-width="0.7"/><line x1="117.85" y1="367.35" x2="117.85" y2="365.35" stroke="#9a9a9a" stroke-width="0.7"/><line x1="117.85" y1="216.50" x2="117.85" y2="218.50" stroke="#9a9a9a" stroke-width="0.7"/><line x1="138.80" y1="367.35" x2="138.80" y2="365.35" stroke="#9a9a9a" stroke-width="0.7"/><line x1="138.80" y1="216.50" x2="138.80" y2="218.50" stroke="#9a9a9a" stroke-width="0.7"/><line x1="159.74" y1="367.35" x2="159.74" y2="365.35" stroke="#9a9a9a" stroke-width="0.7"/><line x1="159.74" y1="216.50" x2="159.74" y2="218.50" stroke="#9a9a9a" stroke-width="0.7"/><line x1="180.69" y1="367.35" x2="180.69" y2="365.35" stroke="#9a9a9a" stroke-width="0.7"/><line x1="180.69" y1="216.50" x2="180.69" y2="218.50" stroke="#9a9a9a" stroke-width="0.7"/><line x1="201.63" y1="367.35" x2="201.63" y2="365.35" stroke="#9a9a9a" stroke-width="0.7"/><line x1="201.63" y1="216.50" x2="201.63" y2="218.50" stroke="#9a9a9a" stroke-width="0.7"/><line x1="21.50" y1="367.35" x2="23.50" y2="367.35" stroke="#9a9a9a" stroke-width="0.7"/><line x1="214.20" y1="367.35" x2="212.20" y2="367.35" stroke="#9a9a9a" stroke-width="0.7"/><line x1="21.50" y1="342.21" x2="23.50" y2="342.21" stroke="#9a9a9a" stroke-width="0.7"/><line x1="214.20" y1="342.21" x2="212.20" y2="342.21" stroke="#9a9a9a" stroke-width="0.7"/><line x1="21.50" y1="317.07" x2="23.50" y2="317.07" stroke="#9a9a9a" stroke-width="0.7"/><line x1="214.20" y1="317.07" x2="212.20" y2="317.07" stroke="#9a9a9a" stroke-width="0.7"/><line x1="21.50" y1="291.93" x2="23.50" y2="291.93" stroke="#9a9a9a" stroke-width="0.7"/><line x1="214.20" y1="291.93" x2="212.20" y2="291.93" stroke="#9a9a9a" stroke-width="0.7"/><line x1="21.50" y1="266.78" x2="23.50" y2="266.78" stroke="#9a9a9a" stroke-width="0.7"/><line x1="214.20" y1="266.78" x2="212.20" y2="266.78" stroke="#9a9a9a" stroke-width="0.7"/><line x1="21.50" y1="241.64" x2="23.50" y2="241.64" stroke="#9a9a9a" stroke-width="0.7"/><line x1="214.20" y1="241.64" x2="212.20" y2="241.64" stroke="#9a9a9a" stroke-width="0.7"/><line x1="21.50" y1="216.50" x2="23.50" y2="216.50" stroke="#9a9a9a" stroke-width="0.7"/><line x1="214.20" y1="216.50" x2="212.20" y2="216.50" stroke="#9a9a9a" stroke-width="0.7"/><line x1="21.50" y1="216.50" x2="214.20" y2="216.50" stroke="#cfcfcf" stroke-width="1"/><line x1="214.20" y1="216.50" x2="214.20" y2="367.35" stroke="#cfcfcf" stroke-width="1"/><line x1="21.50" y1="216.50" x2="21.50" y2="367.35" stroke="#cfcfcf" stroke-width="1"/><line x1="21.00" y1="367.35" x2="214.70" y2="367.35" stroke="#a0a0a0" stroke-width="1.1"/><polyline points="34.07,274.58 117.85,278.35 201.63,281.87" fill="none" stroke="#4b4bc6" stroke-width="1.2" stroke-dasharray="3.6 1.2 1.6 1.3" stroke-linejoin="round"/><polyline points="34.07,264.77 117.85,267.54 201.63,272.57" fill="none" stroke="#c43fc8" stroke-width="1.35" stroke-dasharray="0.9 1.15" stroke-linejoin="round"/><polyline points="34.07,296.95 117.85,306.76 201.63,318.32" fill="none" stroke="#111111" stroke-width="1.45" stroke-dasharray="4.3 3.95" stroke-dashoffset="4.6" stroke-linejoin="round"/><polyline points="34.07,248.18 117.85,264.77 201.63,271.31" fill="none" stroke="#60c216" stroke-width="1.4" stroke-linejoin="round"/><polyline points="34.07,244.41 117.85,251.95 201.63,259.49" fill="none" stroke="#e01b1b" stroke-width="1.4" stroke-linejoin="round"/><circle cx="34.07" cy="274.58" r="2.1" fill="none" stroke="#4b4bc6" stroke-width="1.1"/><circle cx="117.85" cy="278.35" r="2.1" fill="none" stroke="#4b4bc6" stroke-width="1.1"/><circle cx="201.63" cy="281.87" r="2.1" fill="none" stroke="#4b4bc6" stroke-width="1.1"/><circle cx="34.07" cy="264.77" r="2.0" fill="#c43fc8"/><circle cx="117.85" cy="267.54" r="2.0" fill="#c43fc8"/><circle cx="201.63" cy="272.57" r="2.0" fill="#c43fc8"/><polygon points="34.07,293.75 34.96,296.13 37.49,296.24 35.51,297.82 36.18,300.27 34.07,298.87 31.95,300.27 32.63,297.82 30.64,296.24 33.18,296.13" fill="#111111"/><polygon points="117.85,303.56 118.74,305.94 121.27,306.05 119.29,307.63 119.97,310.07 117.85,308.67 115.73,310.07 116.41,307.63 114.43,306.05 116.96,305.94" fill="#111111"/><polygon points="201.63,315.12 202.52,317.50 205.06,317.61 203.07,319.19 203.75,321.64 201.63,320.24 199.52,321.64 200.19,319.19 198.21,317.61 200.74,317.50" fill="#111111"/><rect x="32.27" y="246.38" width="3.6" height="3.6" fill="#60c216" stroke="#60c216" stroke-width="0.4"/><rect x="116.05" y="262.97" width="3.6" height="3.6" fill="#60c216" stroke="#60c216" stroke-width="0.4"/><rect x="199.83" y="269.51" width="3.6" height="3.6" fill="#60c216" stroke="#60c216" stroke-width="0.4"/><polygon points="34.07,241.35 36.97,246.45 31.17,246.45" fill="#e01b1b" stroke="#e01b1b" stroke-width="0.4" stroke-linejoin="miter"/><polygon points="117.85,248.89 120.75,253.99 114.95,253.99" fill="#e01b1b" stroke="#e01b1b" stroke-width="0.4" stroke-linejoin="miter"/><polygon points="201.63,256.43 204.53,261.53 198.73,261.53" fill="#e01b1b" stroke="#e01b1b" stroke-width="0.4" stroke-linejoin="miter"/><text x="34.07" y="377.15" font-size="7.0" fill="#262626" color="#262626" text-anchor="middle">3</text><text x="55.01" y="377.15" font-size="7.0" fill="#262626" color="#262626" text-anchor="middle">3.5</text><text x="75.96" y="377.15" font-size="7.0" fill="#262626" color="#262626" text-anchor="middle">4</text><text x="96.90" y="377.15" font-size="7.0" fill="#262626" color="#262626" text-anchor="middle">4.5</text><text x="117.85" y="377.15" font-size="7.0" fill="#262626" color="#262626" text-anchor="middle">5</text><text x="138.80" y="377.15" font-size="7.0" fill="#262626" color="#262626" text-anchor="middle">5.5</text><text x="159.74" y="377.15" font-size="7.0" fill="#262626" color="#262626" text-anchor="middle">6</text><text x="180.69" y="377.15" font-size="7.0" fill="#262626" color="#262626" text-anchor="middle">6.5</text><text x="201.63" y="377.15" font-size="7.0" fill="#262626" color="#262626" text-anchor="middle">7</text><text x="18.90" y="369.70" font-size="7.1" fill="#262626" color="#262626" text-anchor="end">0</text><text x="18.90" y="344.65" font-size="7.1" fill="#262626" color="#262626" text-anchor="end">0.1</text><text x="18.90" y="319.60" font-size="7.1" fill="#262626" color="#262626" text-anchor="end">0.2</text><text x="18.90" y="294.55" font-size="7.1" fill="#262626" color="#262626" text-anchor="end">0.3</text><text x="18.90" y="269.50" font-size="7.1" fill="#262626" color="#262626" text-anchor="end">0.4</text><text x="18.90" y="244.45" font-size="7.1" fill="#262626" color="#262626" text-anchor="end">0.5</text><text x="18.90" y="219.40" font-size="7.1" fill="#262626" color="#262626" text-anchor="end">0.6</text><text x="0" y="0" transform="translate(5.70,291.93) rotate(-90)" font-size="7.2" font-style="italic" fill="#262626" color="#262626" text-anchor="middle">F</text><text x="117.85" y="385.75" font-size="7.15" fill="#262626" color="#262626" text-anchor="middle">Averaging filter</text><text x="114.35" y="405.65" font-size="16.3" fill="#1a1a1a" color="#1a1a1a" text-anchor="middle">(d)</text><rect x="21.50" y="330.20" width="63.2" height="37.15" fill="#fff" stroke="#bdbdbd" stroke-width="0.9"/><line x1="23.10" y1="334.75" x2="41.40" y2="334.75" stroke="#4b4bc6" stroke-width="1.3" stroke-dasharray="3.6 1.2 1.6 1.3"/><circle cx="32.20" cy="334.75" r="2.1" fill="none" stroke="#4b4bc6" stroke-width="1.1"/><text x="42.50" y="336.85" font-size="6.4" fill="#151515" color="#151515" style="stroke-width:0.16px">Ryu <tspan font-style="italic">et al.</tspan></text><line x1="23.10" y1="342.15" x2="41.40" y2="342.15" stroke="#c43fc8" stroke-width="1.3" stroke-dasharray="0.9 1.15"/><circle cx="32.20" cy="342.15" r="2.0" fill="#c43fc8"/><text x="42.50" y="344.25" font-size="6.4" fill="#151515" color="#151515" style="stroke-width:0.16px">Cozzolino <tspan font-style="italic">et al.</tspan></text><line x1="23.10" y1="349.15" x2="41.40" y2="349.15" stroke="#111111" stroke-width="1.3" stroke-dasharray="4.6 11 1.6"/><polygon points="32.20,345.95 33.09,348.33 35.62,348.44 33.64,350.02 34.32,352.46 32.20,351.06 30.08,352.46 30.76,350.02 28.78,348.44 31.31,348.33" fill="#111111"/><text x="42.50" y="351.25" font-size="6.4" fill="#151515" color="#151515" style="stroke-width:0.16px">Wu <tspan font-style="italic">et al.</tspan></text><line x1="23.10" y1="356.15" x2="41.40" y2="356.15" stroke="#60c216" stroke-width="1.3"/><rect x="30.40" y="354.35" width="3.6" height="3.6" fill="#60c216" stroke="#60c216" stroke-width="0.4"/><text x="42.50" y="358.25" font-size="6.4" fill="#151515" color="#151515" style="stroke-width:0.16px">BusterNet</text><line x1="23.10" y1="362.90" x2="41.40" y2="362.90" stroke="#e01b1b" stroke-width="1.3"/><polygon points="32.20,359.84 35.10,364.94 29.30,364.94" fill="#e01b1b" stroke="#e01b1b" stroke-width="0.4" stroke-linejoin="miter"/><text x="42.50" y="365.00" font-size="6.4" fill="#151515" color="#151515" style="stroke-width:0.16px">Proposed</text></g><g><line x1="265.24" y1="216.50" x2="265.24" y2="367.35" stroke="#f5f5f5" stroke-width="0.8"/><line x1="286.72" y1="216.50" x2="286.72" y2="367.35" stroke="#f5f5f5" stroke-width="0.8"/><line x1="308.19" y1="216.50" x2="308.19" y2="367.35" stroke="#f5f5f5" stroke-width="0.8"/><line x1="329.67" y1="216.50" x2="329.67" y2="367.35" stroke="#f5f5f5" stroke-width="0.8"/><line x1="351.15" y1="216.50" x2="351.15" y2="367.35" stroke="#f5f5f5" stroke-width="0.8"/><line x1="372.63" y1="216.50" x2="372.63" y2="367.35" stroke="#f5f5f5" stroke-width="0.8"/><line x1="394.11" y1="216.50" x2="394.11" y2="367.35" stroke="#f5f5f5" stroke-width="0.8"/><line x1="415.58" y1="216.50" x2="415.58" y2="367.35" stroke="#f5f5f5" stroke-width="0.8"/><line x1="437.06" y1="216.50" x2="437.06" y2="367.35" stroke="#f5f5f5" stroke-width="0.8"/><line x1="254.50" y1="342.21" x2="447.80" y2="342.21" stroke="#f5f5f5" stroke-width="0.8"/><line x1="254.50" y1="317.07" x2="447.80" y2="317.07" stroke="#f5f5f5" stroke-width="0.8"/><line x1="254.50" y1="291.93" x2="447.80" y2="291.93" stroke="#f5f5f5" stroke-width="0.8"/><line x1="254.50" y1="266.78" x2="447.80" y2="266.78" stroke="#f5f5f5" stroke-width="0.8"/><line x1="254.50" y1="241.64" x2="447.80" y2="241.64" stroke="#f5f5f5" stroke-width="0.8"/><line x1="265.24" y1="367.35" x2="265.24" y2="365.35" stroke="#9a9a9a" stroke-width="0.7"/><line x1="265.24" y1="216.50" x2="265.24" y2="218.50" stroke="#9a9a9a" stroke-width="0.7"/><line x1="286.72" y1="367.35" x2="286.72" y2="365.35" stroke="#9a9a9a" stroke-width="0.7"/><line x1="286.72" y1="216.50" x2="286.72" y2="218.50" stroke="#9a9a9a" stroke-width="0.7"/><line x1="308.19" y1="367.35" x2="308.19" y2="365.35" stroke="#9a9a9a" stroke-width="0.7"/><line x1="308.19" y1="216.50" x2="308.19" y2="218.50" stroke="#9a9a9a" stroke-width="0.7"/><line x1="329.67" y1="367.35" x2="329.67" y2="365.35" stroke="#9a9a9a" stroke-width="0.7"/><line x1="329.67" y1="216.50" x2="329.67" y2="218.50" stroke="#9a9a9a" stroke-width="0.7"/><line x1="351.15" y1="367.35" x2="351.15" y2="365.35" stroke="#9a9a9a" stroke-width="0.7"/><line x1="351.15" y1="216.50" x2="351.15" y2="218.50" stroke="#9a9a9a" stroke-width="0.7"/><line x1="372.63" y1="367.35" x2="372.63" y2="365.35" stroke="#9a9a9a" stroke-width="0.7"/><line x1="372.63" y1="216.50" x2="372.63" y2="218.50" stroke="#9a9a9a" stroke-width="0.7"/><line x1="394.11" y1="367.35" x2="394.11" y2="365.35" stroke="#9a9a9a" stroke-width="0.7"/><line x1="394.11" y1="216.50" x2="394.11" y2="218.50" stroke="#9a9a9a" stroke-width="0.7"/><line x1="415.58" y1="367.35" x2="415.58" y2="365.35" stroke="#9a9a9a" stroke-width="0.7"/><line x1="415.58" y1="216.50" x2="415.58" y2="218.50" stroke="#9a9a9a" stroke-width="0.7"/><line x1="437.06" y1="367.35" x2="437.06" y2="365.35" stroke="#9a9a9a" stroke-width="0.7"/><line x1="437.06" y1="216.50" x2="437.06" y2="218.50" stroke="#9a9a9a" stroke-width="0.7"/><line x1="254.50" y1="367.35" x2="256.50" y2="367.35" stroke="#9a9a9a" stroke-width="0.7"/><line x1="447.80" y1="367.35" x2="445.80" y2="367.35" stroke="#9a9a9a" stroke-width="0.7"/><line x1="254.50" y1="342.21" x2="256.50" y2="342.21" stroke="#9a9a9a" stroke-width="0.7"/><line x1="447.80" y1="342.21" x2="445.80" y2="342.21" stroke="#9a9a9a" stroke-width="0.7"/><line x1="254.50" y1="317.07" x2="256.50" y2="317.07" stroke="#9a9a9a" stroke-width="0.7"/><line x1="447.80" y1="317.07" x2="445.80" y2="317.07" stroke="#9a9a9a" stroke-width="0.7"/><line x1="254.50" y1="291.93" x2="256.50" y2="291.93" stroke="#9a9a9a" stroke-width="0.7"/><line x1="447.80" y1="291.93" x2="445.80" y2="291.93" stroke="#9a9a9a" stroke-width="0.7"/><line x1="254.50" y1="266.78" x2="256.50" y2="266.78" stroke="#9a9a9a" stroke-width="0.7"/><line x1="447.80" y1="266.78" x2="445.80" y2="266.78" stroke="#9a9a9a" stroke-width="0.7"/><line x1="254.50" y1="241.64" x2="256.50" y2="241.64" stroke="#9a9a9a" stroke-width="0.7"/><line x1="447.80" y1="241.64" x2="445.80" y2="241.64" stroke="#9a9a9a" stroke-width="0.7"/><line x1="254.50" y1="216.50" x2="256.50" y2="216.50" stroke="#9a9a9a" stroke-width="0.7"/><line x1="447.80" y1="216.50" x2="445.80" y2="216.50" stroke="#9a9a9a" stroke-width="0.7"/><line x1="254.50" y1="216.50" x2="447.80" y2="216.50" stroke="#cfcfcf" stroke-width="1"/><line x1="447.80" y1="216.50" x2="447.80" y2="367.35" stroke="#cfcfcf" stroke-width="1"/><line x1="254.50" y1="216.50" x2="254.50" y2="367.35" stroke="#cfcfcf" stroke-width="1"/><line x1="254.00" y1="367.35" x2="448.30" y2="367.35" stroke="#a0a0a0" stroke-width="1.1"/><polyline points="265.24,325.36 286.72,304.75 308.19,297.20 329.67,293.68 351.15,290.17 372.63,287.15 394.11,281.11 415.58,278.60 437.06,285.14" fill="none" stroke="#4b4bc6" stroke-width="1.2" stroke-dasharray="3.6 1.2 1.6 1.3" stroke-linejoin="round"/><polyline points="265.24,291.17 286.72,283.13 308.19,280.61 329.67,279.10 351.15,276.59 372.63,275.08 394.11,270.81 415.58,264.77 437.06,268.29" fill="none" stroke="#c43fc8" stroke-width="1.35" stroke-dasharray="0.9 1.15" stroke-linejoin="round"/><polyline points="265.24,327.88 286.72,322.35 308.19,316.31 329.67,313.80 351.15,310.78 372.63,306.76 394.11,297.20 415.58,292.68 437.06,297.71" fill="none" stroke="#111111" stroke-width="1.45" stroke-dasharray="4.3 3.95" stroke-dashoffset="4.6" stroke-linejoin="round"/><polyline points="265.24,292.68 286.72,278.10 308.19,275.58 329.67,262.76 351.15,265.78 372.63,260.25 394.11,256.98 415.58,251.20 437.06,257.23" fill="none" stroke="#60c216" stroke-width="1.4" stroke-linejoin="round"/><polyline points="265.24,282.62 286.72,262.26 308.19,259.24 329.67,249.69 351.15,248.68 372.63,244.66 394.11,239.63 415.58,237.12 437.06,242.14" fill="none" stroke="#e01b1b" stroke-width="1.4" stroke-linejoin="round"/><circle cx="265.24" cy="325.36" r="2.1" fill="none" stroke="#4b4bc6" stroke-width="1.1"/><circle cx="286.72" cy="304.75" r="2.1" fill="none" stroke="#4b4bc6" stroke-width="1.1"/><circle cx="308.19" cy="297.20" r="2.1" fill="none" stroke="#4b4bc6" stroke-width="1.1"/><circle cx="329.67" cy="293.68" r="2.1" fill="none" stroke="#4b4bc6" stroke-width="1.1"/><circle cx="351.15" cy="290.17" r="2.1" fill="none" stroke="#4b4bc6" stroke-width="1.1"/><circle cx="372.63" cy="287.15" r="2.1" fill="none" stroke="#4b4bc6" stroke-width="1.1"/><circle cx="394.11" cy="281.11" r="2.1" fill="none" stroke="#4b4bc6" stroke-width="1.1"/><circle cx="415.58" cy="278.60" r="2.1" fill="none" stroke="#4b4bc6" stroke-width="1.1"/><circle cx="437.06" cy="285.14" r="2.1" fill="none" stroke="#4b4bc6" stroke-width="1.1"/><circle cx="265.24" cy="291.17" r="2.0" fill="#c43fc8"/><circle cx="286.72" cy="283.13" r="2.0" fill="#c43fc8"/><circle cx="308.19" cy="280.61" r="2.0" fill="#c43fc8"/><circle cx="329.67" cy="279.10" r="2.0" fill="#c43fc8"/><circle cx="351.15" cy="276.59" r="2.0" fill="#c43fc8"/><circle cx="372.63" cy="275.08" r="2.0" fill="#c43fc8"/><circle cx="394.11" cy="270.81" r="2.0" fill="#c43fc8"/><circle cx="415.58" cy="264.77" r="2.0" fill="#c43fc8"/><circle cx="437.06" cy="268.29" r="2.0" fill="#c43fc8"/><polygon points="265.24,324.68 266.13,327.05 268.66,327.17 266.68,328.74 267.35,331.19 265.24,329.79 263.12,331.19 263.80,328.74 261.82,327.17 264.35,327.05" fill="#111111"/><polygon points="286.72,319.15 287.61,321.52 290.14,321.63 288.15,323.21 288.83,325.66 286.72,324.26 284.60,325.66 285.28,323.21 283.29,321.63 285.83,321.52" fill="#111111"/><polygon points="308.19,313.11 309.08,315.49 311.62,315.60 309.63,317.18 310.31,319.62 308.19,318.22 306.08,319.62 306.76,317.18 304.77,315.60 307.31,315.49" fill="#111111"/><polygon points="329.67,310.60 330.56,312.98 333.10,313.09 331.11,314.67 331.79,317.11 329.67,315.71 327.56,317.11 328.23,314.67 326.25,313.09 328.78,312.98" fill="#111111"/><polygon points="351.15,307.58 352.04,309.96 354.57,310.07 352.59,311.65 353.27,314.09 351.15,312.69 349.03,314.09 349.71,311.65 347.73,310.07 350.26,309.96" fill="#111111"/><polygon points="372.63,303.56 373.52,305.94 376.05,306.05 374.07,307.63 374.74,310.07 372.63,308.67 370.51,310.07 371.19,307.63 369.20,306.05 371.74,305.94" fill="#111111"/><polygon points="394.11,294.00 394.99,296.38 397.53,296.49 395.54,298.07 396.22,300.52 394.11,299.12 391.99,300.52 392.67,298.07 390.68,296.49 393.22,296.38" fill="#111111"/><polygon points="415.58,289.48 416.47,291.86 419.01,291.97 417.02,293.55 417.70,295.99 415.58,294.59 413.47,295.99 414.15,293.55 412.16,291.97 414.69,291.86" fill="#111111"/><polygon points="437.06,294.51 437.95,296.88 440.48,297.00 438.50,298.57 439.18,301.02 437.06,299.62 434.95,301.02 435.62,298.57 433.64,297.00 436.17,296.88" fill="#111111"/><rect x="263.44" y="290.88" width="3.6" height="3.6" fill="#60c216" stroke="#60c216" stroke-width="0.4"/><rect x="284.92" y="276.30" width="3.6" height="3.6" fill="#60c216" stroke="#60c216" stroke-width="0.4"/><rect x="306.39" y="273.78" width="3.6" height="3.6" fill="#60c216" stroke="#60c216" stroke-width="0.4"/><rect x="327.87" y="260.96" width="3.6" height="3.6" fill="#60c216" stroke="#60c216" stroke-width="0.4"/><rect x="349.35" y="263.98" width="3.6" height="3.6" fill="#60c216" stroke="#60c216" stroke-width="0.4"/><rect x="370.83" y="258.45" width="3.6" height="3.6" fill="#60c216" stroke="#60c216" stroke-width="0.4"/><rect x="392.31" y="255.18" width="3.6" height="3.6" fill="#60c216" stroke="#60c216" stroke-width="0.4"/><rect x="413.78" y="249.40" width="3.6" height="3.6" fill="#60c216" stroke="#60c216" stroke-width="0.4"/><rect x="435.26" y="255.43" width="3.6" height="3.6" fill="#60c216" stroke="#60c216" stroke-width="0.4"/><polygon points="265.24,279.56 268.14,284.66 262.34,284.66" fill="#e01b1b" stroke="#e01b1b" stroke-width="0.4" stroke-linejoin="miter"/><polygon points="286.72,259.20 289.62,264.30 283.82,264.30" fill="#e01b1b" stroke="#e01b1b" stroke-width="0.4" stroke-linejoin="miter"/><polygon points="308.19,256.18 311.09,261.28 305.29,261.28" fill="#e01b1b" stroke="#e01b1b" stroke-width="0.4" stroke-linejoin="miter"/><polygon points="329.67,246.63 332.57,251.73 326.77,251.73" fill="#e01b1b" stroke="#e01b1b" stroke-width="0.4" stroke-linejoin="miter"/><polygon points="351.15,245.62 354.05,250.72 348.25,250.72" fill="#e01b1b" stroke="#e01b1b" stroke-width="0.4" stroke-linejoin="miter"/><polygon points="372.63,241.60 375.53,246.70 369.73,246.70" fill="#e01b1b" stroke="#e01b1b" stroke-width="0.4" stroke-linejoin="miter"/><polygon points="394.11,236.57 397.01,241.67 391.21,241.67" fill="#e01b1b" stroke="#e01b1b" stroke-width="0.4" stroke-linejoin="miter"/><polygon points="415.58,234.06 418.48,239.16 412.68,239.16" fill="#e01b1b" stroke="#e01b1b" stroke-width="0.4" stroke-linejoin="miter"/><polygon points="437.06,239.08 439.96,244.18 434.16,244.18" fill="#e01b1b" stroke="#e01b1b" stroke-width="0.4" stroke-linejoin="miter"/><text x="265.24" y="377.15" font-size="7.0" fill="#262626" color="#262626" text-anchor="middle">20</text><text x="286.72" y="377.15" font-size="7.0" fill="#262626" color="#262626" text-anchor="middle">30</text><text x="308.19" y="377.15" font-size="7.0" fill="#262626" color="#262626" text-anchor="middle">40</text><text x="329.67" y="377.15" font-size="7.0" fill="#262626" color="#262626" text-anchor="middle">50</text><text x="351.15" y="377.15" font-size="7.0" fill="#262626" color="#262626" text-anchor="middle">60</text><text x="372.63" y="377.15" font-size="7.0" fill="#262626" color="#262626" text-anchor="middle">70</text><text x="394.11" y="377.15" font-size="7.0" fill="#262626" color="#262626" text-anchor="middle">80</text><text x="415.58" y="377.15" font-size="7.0" fill="#262626" color="#262626" text-anchor="middle">90</text><text x="437.06" y="377.15" font-size="7.0" fill="#262626" color="#262626" text-anchor="middle">100</text><text x="251.90" y="369.70" font-size="7.1" fill="#262626" color="#262626" text-anchor="end">0</text><text x="251.90" y="344.65" font-size="7.1" fill="#262626" color="#262626" text-anchor="end">0.1</text><text x="251.90" y="319.60" font-size="7.1" fill="#262626" color="#262626" text-anchor="end">0.2</text><text x="251.90" y="294.55" font-size="7.1" fill="#262626" color="#262626" text-anchor="end">0.3</text><text x="251.90" y="269.50" font-size="7.1" fill="#262626" color="#262626" text-anchor="end">0.4</text><text x="251.90" y="244.45" font-size="7.1" fill="#262626" color="#262626" text-anchor="end">0.5</text><text x="251.90" y="219.40" font-size="7.1" fill="#262626" color="#262626" text-anchor="end">0.6</text><text x="0" y="0" transform="translate(238.70,291.93) rotate(-90)" font-size="7.2" font-style="italic" fill="#262626" color="#262626" text-anchor="middle">F</text><text x="351.15" y="385.75" font-size="7.15" fill="#262626" color="#262626" text-anchor="middle">Factor</text><text x="347.65" y="405.65" font-size="16.3" fill="#1a1a1a" color="#1a1a1a" text-anchor="middle">(e)</text><rect x="254.50" y="330.20" width="63.2" height="37.15" fill="#fff" stroke="#bdbdbd" stroke-width="0.9"/><line x1="256.10" y1="334.75" x2="274.40" y2="334.75" stroke="#4b4bc6" stroke-width="1.3" stroke-dasharray="3.6 1.2 1.6 1.3"/><circle cx="265.20" cy="334.75" r="2.1" fill="none" stroke="#4b4bc6" stroke-width="1.1"/><text x="275.50" y="336.85" font-size="6.4" fill="#151515" color="#151515" style="stroke-width:0.16px">Ryu <tspan font-style="italic">et al.</tspan></text><line x1="256.10" y1="342.15" x2="274.40" y2="342.15" stroke="#c43fc8" stroke-width="1.3" stroke-dasharray="0.9 1.15"/><circle cx="265.20" cy="342.15" r="2.0" fill="#c43fc8"/><text x="275.50" y="344.25" font-size="6.4" fill="#151515" color="#151515" style="stroke-width:0.16px">Cozzolino <tspan font-style="italic">et al.</tspan></text><line x1="256.10" y1="349.15" x2="274.40" y2="349.15" stroke="#111111" stroke-width="1.3" stroke-dasharray="4.6 11 1.6"/><polygon points="265.20,345.95 266.09,348.33 268.62,348.44 266.64,350.02 267.32,352.46 265.20,351.06 263.08,352.46 263.76,350.02 261.78,348.44 264.31,348.33" fill="#111111"/><text x="275.50" y="351.25" font-size="6.4" fill="#151515" color="#151515" style="stroke-width:0.16px">Wu <tspan font-style="italic">et al.</tspan></text><line x1="256.10" y1="356.15" x2="274.40" y2="356.15" stroke="#60c216" stroke-width="1.3"/><rect x="263.40" y="354.35" width="3.6" height="3.6" fill="#60c216" stroke="#60c216" stroke-width="0.4"/><text x="275.50" y="358.25" font-size="6.4" fill="#151515" color="#151515" style="stroke-width:0.16px">BusterNet</text><line x1="256.10" y1="362.90" x2="274.40" y2="362.90" stroke="#e01b1b" stroke-width="1.3"/><polygon points="265.20,359.84 268.10,364.94 262.30,364.94" fill="#e01b1b" stroke="#e01b1b" stroke-width="0.4" stroke-linejoin="miter"/><text x="275.50" y="365.00" font-size="6.4" fill="#151515" color="#151515" style="stroke-width:0.16px">Proposed</text></g><g><line x1="488.30" y1="216.50" x2="488.30" y2="366.15" stroke="#f5f5f5" stroke-width="0.8"/><line x1="508.55" y1="216.50" x2="508.55" y2="366.15" stroke="#f5f5f5" stroke-width="0.8"/><line x1="528.81" y1="216.50" x2="528.81" y2="366.15" stroke="#f5f5f5" stroke-width="0.8"/><line x1="549.06" y1="216.50" x2="549.06" y2="366.15" stroke="#f5f5f5" stroke-width="0.8"/><line x1="569.31" y1="216.50" x2="569.31" y2="366.15" stroke="#f5f5f5" stroke-width="0.8"/><line x1="589.56" y1="216.50" x2="589.56" y2="366.15" stroke="#f5f5f5" stroke-width="0.8"/><line x1="609.82" y1="216.50" x2="609.82" y2="366.15" stroke="#f5f5f5" stroke-width="0.8"/><line x1="630.07" y1="216.50" x2="630.07" y2="366.15" stroke="#f5f5f5" stroke-width="0.8"/><line x1="650.32" y1="216.50" x2="650.32" y2="366.15" stroke="#f5f5f5" stroke-width="0.8"/><line x1="670.57" y1="216.50" x2="670.57" y2="366.15" stroke="#f5f5f5" stroke-width="0.8"/><line x1="488.30" y1="341.21" x2="680.70" y2="341.21" stroke="#f5f5f5" stroke-width="0.8"/><line x1="488.30" y1="316.27" x2="680.70" y2="316.27" stroke="#f5f5f5" stroke-width="0.8"/><line x1="488.30" y1="291.32" x2="680.70" y2="291.32" stroke="#f5f5f5" stroke-width="0.8"/><line x1="488.30" y1="266.38" x2="680.70" y2="266.38" stroke="#f5f5f5" stroke-width="0.8"/><line x1="488.30" y1="241.44" x2="680.70" y2="241.44" stroke="#f5f5f5" stroke-width="0.8"/><line x1="488.30" y1="366.15" x2="488.30" y2="364.15" stroke="#9a9a9a" stroke-width="0.7"/><line x1="488.30" y1="216.50" x2="488.30" y2="218.50" stroke="#9a9a9a" stroke-width="0.7"/><line x1="508.55" y1="366.15" x2="508.55" y2="364.15" stroke="#9a9a9a" stroke-width="0.7"/><line x1="508.55" y1="216.50" x2="508.55" y2="218.50" stroke="#9a9a9a" stroke-width="0.7"/><line x1="528.81" y1="366.15" x2="528.81" y2="364.15" stroke="#9a9a9a" stroke-width="0.7"/><line x1="528.81" y1="216.50" x2="528.81" y2="218.50" stroke="#9a9a9a" stroke-width="0.7"/><line x1="549.06" y1="366.15" x2="549.06" y2="364.15" stroke="#9a9a9a" stroke-width="0.7"/><line x1="549.06" y1="216.50" x2="549.06" y2="218.50" stroke="#9a9a9a" stroke-width="0.7"/><line x1="569.31" y1="366.15" x2="569.31" y2="364.15" stroke="#9a9a9a" stroke-width="0.7"/><line x1="569.31" y1="216.50" x2="569.31" y2="218.50" stroke="#9a9a9a" stroke-width="0.7"/><line x1="589.56" y1="366.15" x2="589.56" y2="364.15" stroke="#9a9a9a" stroke-width="0.7"/><line x1="589.56" y1="216.50" x2="589.56" y2="218.50" stroke="#9a9a9a" stroke-width="0.7"/><line x1="609.82" y1="366.15" x2="609.82" y2="364.15" stroke="#9a9a9a" stroke-width="0.7"/><line x1="609.82" y1="216.50" x2="609.82" y2="218.50" stroke="#9a9a9a" stroke-width="0.7"/><line x1="630.07" y1="366.15" x2="630.07" y2="364.15" stroke="#9a9a9a" stroke-width="0.7"/><line x1="630.07" y1="216.50" x2="630.07" y2="218.50" stroke="#9a9a9a" stroke-width="0.7"/><line x1="650.32" y1="366.15" x2="650.32" y2="364.15" stroke="#9a9a9a" stroke-width="0.7"/><line x1="650.32" y1="216.50" x2="650.32" y2="218.50" stroke="#9a9a9a" stroke-width="0.7"/><line x1="670.57" y1="366.15" x2="670.57" y2="364.15" stroke="#9a9a9a" stroke-width="0.7"/><line x1="670.57" y1="216.50" x2="670.57" y2="218.50" stroke="#9a9a9a" stroke-width="0.7"/><line x1="488.30" y1="366.15" x2="490.30" y2="366.15" stroke="#9a9a9a" stroke-width="0.7"/><line x1="680.70" y1="366.15" x2="678.70" y2="366.15" stroke="#9a9a9a" stroke-width="0.7"/><line x1="488.30" y1="341.21" x2="490.30" y2="341.21" stroke="#9a9a9a" stroke-width="0.7"/><line x1="680.70" y1="341.21" x2="678.70" y2="341.21" stroke="#9a9a9a" stroke-width="0.7"/><line x1="488.30" y1="316.27" x2="490.30" y2="316.27" stroke="#9a9a9a" stroke-width="0.7"/><line x1="680.70" y1="316.27" x2="678.70" y2="316.27" stroke="#9a9a9a" stroke-width="0.7"/><line x1="488.30" y1="291.32" x2="490.30" y2="291.32" stroke="#9a9a9a" stroke-width="0.7"/><line x1="680.70" y1="291.32" x2="678.70" y2="291.32" stroke="#9a9a9a" stroke-width="0.7"/><line x1="488.30" y1="266.38" x2="490.30" y2="266.38" stroke="#9a9a9a" stroke-width="0.7"/><line x1="680.70" y1="266.38" x2="678.70" y2="266.38" stroke="#9a9a9a" stroke-width="0.7"/><line x1="488.30" y1="241.44" x2="490.30" y2="241.44" stroke="#9a9a9a" stroke-width="0.7"/><line x1="680.70" y1="241.44" x2="678.70" y2="241.44" stroke="#9a9a9a" stroke-width="0.7"/><line x1="488.30" y1="216.50" x2="490.30" y2="216.50" stroke="#9a9a9a" stroke-width="0.7"/><line x1="680.70" y1="216.50" x2="678.70" y2="216.50" stroke="#9a9a9a" stroke-width="0.7"/><line x1="488.30" y1="216.50" x2="680.70" y2="216.50" stroke="#cfcfcf" stroke-width="1"/><line x1="680.70" y1="216.50" x2="680.70" y2="366.15" stroke="#cfcfcf" stroke-width="1"/><line x1="488.30" y1="216.50" x2="488.30" y2="366.15" stroke="#cfcfcf" stroke-width="1"/><line x1="487.80" y1="366.15" x2="681.20" y2="366.15" stroke="#a0a0a0" stroke-width="1.1"/><polyline points="498.43,280.43 589.56,324.85 670.57,343.63" fill="none" stroke="#4b4bc6" stroke-width="1.2" stroke-dasharray="3.6 1.2 1.6 1.3" stroke-linejoin="round"/><polyline points="498.43,275.51 589.56,294.49 670.57,321.65" fill="none" stroke="#c43fc8" stroke-width="1.35" stroke-dasharray="0.9 1.15" stroke-linejoin="round"/><polyline points="498.43,290.10 589.56,294.79 670.57,300.58" fill="none" stroke="#111111" stroke-width="1.45" stroke-dasharray="4.3 3.95" stroke-dashoffset="4.6" stroke-linejoin="round"/><polyline points="498.43,246.55 589.56,257.35 670.57,260.85" fill="none" stroke="#60c216" stroke-width="1.4" stroke-linejoin="round"/><polyline points="498.43,236.28 589.56,241.27 670.57,246.26" fill="none" stroke="#e01b1b" stroke-width="1.4" stroke-linejoin="round"/><circle cx="498.43" cy="280.43" r="2.1" fill="none" stroke="#4b4bc6" stroke-width="1.1"/><circle cx="589.56" cy="324.85" r="2.1" fill="none" stroke="#4b4bc6" stroke-width="1.1"/><circle cx="670.57" cy="343.63" r="2.1" fill="none" stroke="#4b4bc6" stroke-width="1.1"/><circle cx="498.43" cy="275.51" r="2.0" fill="#c43fc8"/><circle cx="589.56" cy="294.49" r="2.0" fill="#c43fc8"/><circle cx="670.57" cy="321.65" r="2.0" fill="#c43fc8"/><polygon points="498.43,286.90 499.32,289.28 501.85,289.39 499.86,290.97 500.54,293.42 498.43,292.01 496.31,293.42 496.99,290.97 495.00,289.39 497.54,289.28" fill="#111111"/><polygon points="589.56,291.59 590.45,293.97 592.99,294.08 591.00,295.66 591.68,298.10 589.56,296.70 587.45,298.10 588.13,295.66 586.14,294.08 588.67,293.97" fill="#111111"/><polygon points="670.57,297.38 671.46,299.76 674.00,299.87 672.01,301.45 672.69,303.89 670.57,302.49 668.46,303.89 669.14,301.45 667.15,299.87 669.68,299.76" fill="#111111"/><rect x="496.63" y="244.75" width="3.6" height="3.6" fill="#60c216" stroke="#60c216" stroke-width="0.4"/><rect x="587.76" y="255.55" width="3.6" height="3.6" fill="#60c216" stroke="#60c216" stroke-width="0.4"/><rect x="668.77" y="259.05" width="3.6" height="3.6" fill="#60c216" stroke="#60c216" stroke-width="0.4"/><polygon points="498.43,233.22 501.33,238.32 495.53,238.32" fill="#e01b1b" stroke="#e01b1b" stroke-width="0.4" stroke-linejoin="miter"/><polygon points="589.56,238.21 592.46,243.31 586.66,243.31" fill="#e01b1b" stroke="#e01b1b" stroke-width="0.4" stroke-linejoin="miter"/><polygon points="670.57,243.20 673.47,248.30 667.67,248.30" fill="#e01b1b" stroke="#e01b1b" stroke-width="0.4" stroke-linejoin="miter"/><text x="488.30" y="375.95" font-size="7.0" fill="#262626" color="#262626" text-anchor="middle">0</text><text x="508.55" y="375.95" font-size="7.0" fill="#262626" color="#262626" text-anchor="middle">1</text><text x="528.81" y="375.95" font-size="7.0" fill="#262626" color="#262626" text-anchor="middle">2</text><text x="549.06" y="375.95" font-size="7.0" fill="#262626" color="#262626" text-anchor="middle">3</text><text x="569.31" y="375.95" font-size="7.0" fill="#262626" color="#262626" text-anchor="middle">4</text><text x="589.56" y="375.95" font-size="7.0" fill="#262626" color="#262626" text-anchor="middle">5</text><text x="609.82" y="375.95" font-size="7.0" fill="#262626" color="#262626" text-anchor="middle">6</text><text x="630.07" y="375.95" font-size="7.0" fill="#262626" color="#262626" text-anchor="middle">7</text><text x="650.32" y="375.95" font-size="7.0" fill="#262626" color="#262626" text-anchor="middle">8</text><text x="670.57" y="375.95" font-size="7.0" fill="#262626" color="#262626" text-anchor="middle">9</text><text x="485.70" y="368.50" font-size="7.1" fill="#262626" color="#262626" text-anchor="end">0</text><text x="485.70" y="343.65" font-size="7.1" fill="#262626" color="#262626" text-anchor="end">0.1</text><text x="485.70" y="318.80" font-size="7.1" fill="#262626" color="#262626" text-anchor="end">0.2</text><text x="485.70" y="293.95" font-size="7.1" fill="#262626" color="#262626" text-anchor="end">0.3</text><text x="485.70" y="269.10" font-size="7.1" fill="#262626" color="#262626" text-anchor="end">0.4</text><text x="485.70" y="244.25" font-size="7.1" fill="#262626" color="#262626" text-anchor="end">0.5</text><text x="485.70" y="219.40" font-size="7.1" fill="#262626" color="#262626" text-anchor="end">0.6</text><text x="0" y="0" transform="translate(472.50,291.32) rotate(-90)" font-size="7.2" font-style="italic" fill="#262626" color="#262626" text-anchor="middle">F</text><text x="580.90" y="385.95" font-size="7.4" font-style="italic" fill="#262626" color="#262626">σ<tspan font-size="5.2" dy="-3.6" font-style="normal">2</tspan></text><text x="663.50" y="385.75" font-size="7.6" fill="#262626" color="#262626">×10<tspan font-size="5.4" dy="-3.4">-3</tspan></text><text x="581.80" y="405.65" font-size="16.3" fill="#1a1a1a" color="#1a1a1a" text-anchor="middle">(f)</text><rect x="488.30" y="329.00" width="63.2" height="37.15" fill="#fff" stroke="#bdbdbd" stroke-width="0.9"/><line x1="489.90" y1="333.55" x2="508.20" y2="333.55" stroke="#4b4bc6" stroke-width="1.3" stroke-dasharray="3.6 1.2 1.6 1.3"/><circle cx="499.00" cy="333.55" r="2.1" fill="none" stroke="#4b4bc6" stroke-width="1.1"/><text x="509.30" y="335.65" font-size="6.4" fill="#151515" color="#151515" style="stroke-width:0.16px">Ryu <tspan font-style="italic">et al.</tspan></text><line x1="489.90" y1="340.95" x2="508.20" y2="340.95" stroke="#c43fc8" stroke-width="1.3" stroke-dasharray="0.9 1.15"/><circle cx="499.00" cy="340.95" r="2.0" fill="#c43fc8"/><text x="509.30" y="343.05" font-size="6.4" fill="#151515" color="#151515" style="stroke-width:0.16px">Cozzolino <tspan font-style="italic">et al.</tspan></text><line x1="489.90" y1="347.95" x2="508.20" y2="347.95" stroke="#111111" stroke-width="1.3" stroke-dasharray="4.6 11 1.6"/><polygon points="499.00,344.75 499.89,347.13 502.42,347.24 500.44,348.82 501.12,351.26 499.00,349.86 496.88,351.26 497.56,348.82 495.58,347.24 498.11,347.13" fill="#111111"/><text x="509.30" y="350.05" font-size="6.4" fill="#151515" color="#151515" style="stroke-width:0.16px">Wu <tspan font-style="italic">et al.</tspan></text><line x1="489.90" y1="354.95" x2="508.20" y2="354.95" stroke="#60c216" stroke-width="1.3"/><rect x="497.20" y="353.15" width="3.6" height="3.6" fill="#60c216" stroke="#60c216" stroke-width="0.4"/><text x="509.30" y="357.05" font-size="6.4" fill="#151515" color="#151515" style="stroke-width:0.16px">BusterNet</text><line x1="489.90" y1="361.70" x2="508.20" y2="361.70" stroke="#e01b1b" stroke-width="1.3"/><polygon points="499.00,358.64 501.90,363.74 496.10,363.74" fill="#e01b1b" stroke="#e01b1b" stroke-width="0.4" stroke-linejoin="miter"/><text x="509.30" y="363.80" font-size="6.4" fill="#151515" color="#151515" style="stroke-width:0.16px">Proposed</text></g></g></svg></body></html>
